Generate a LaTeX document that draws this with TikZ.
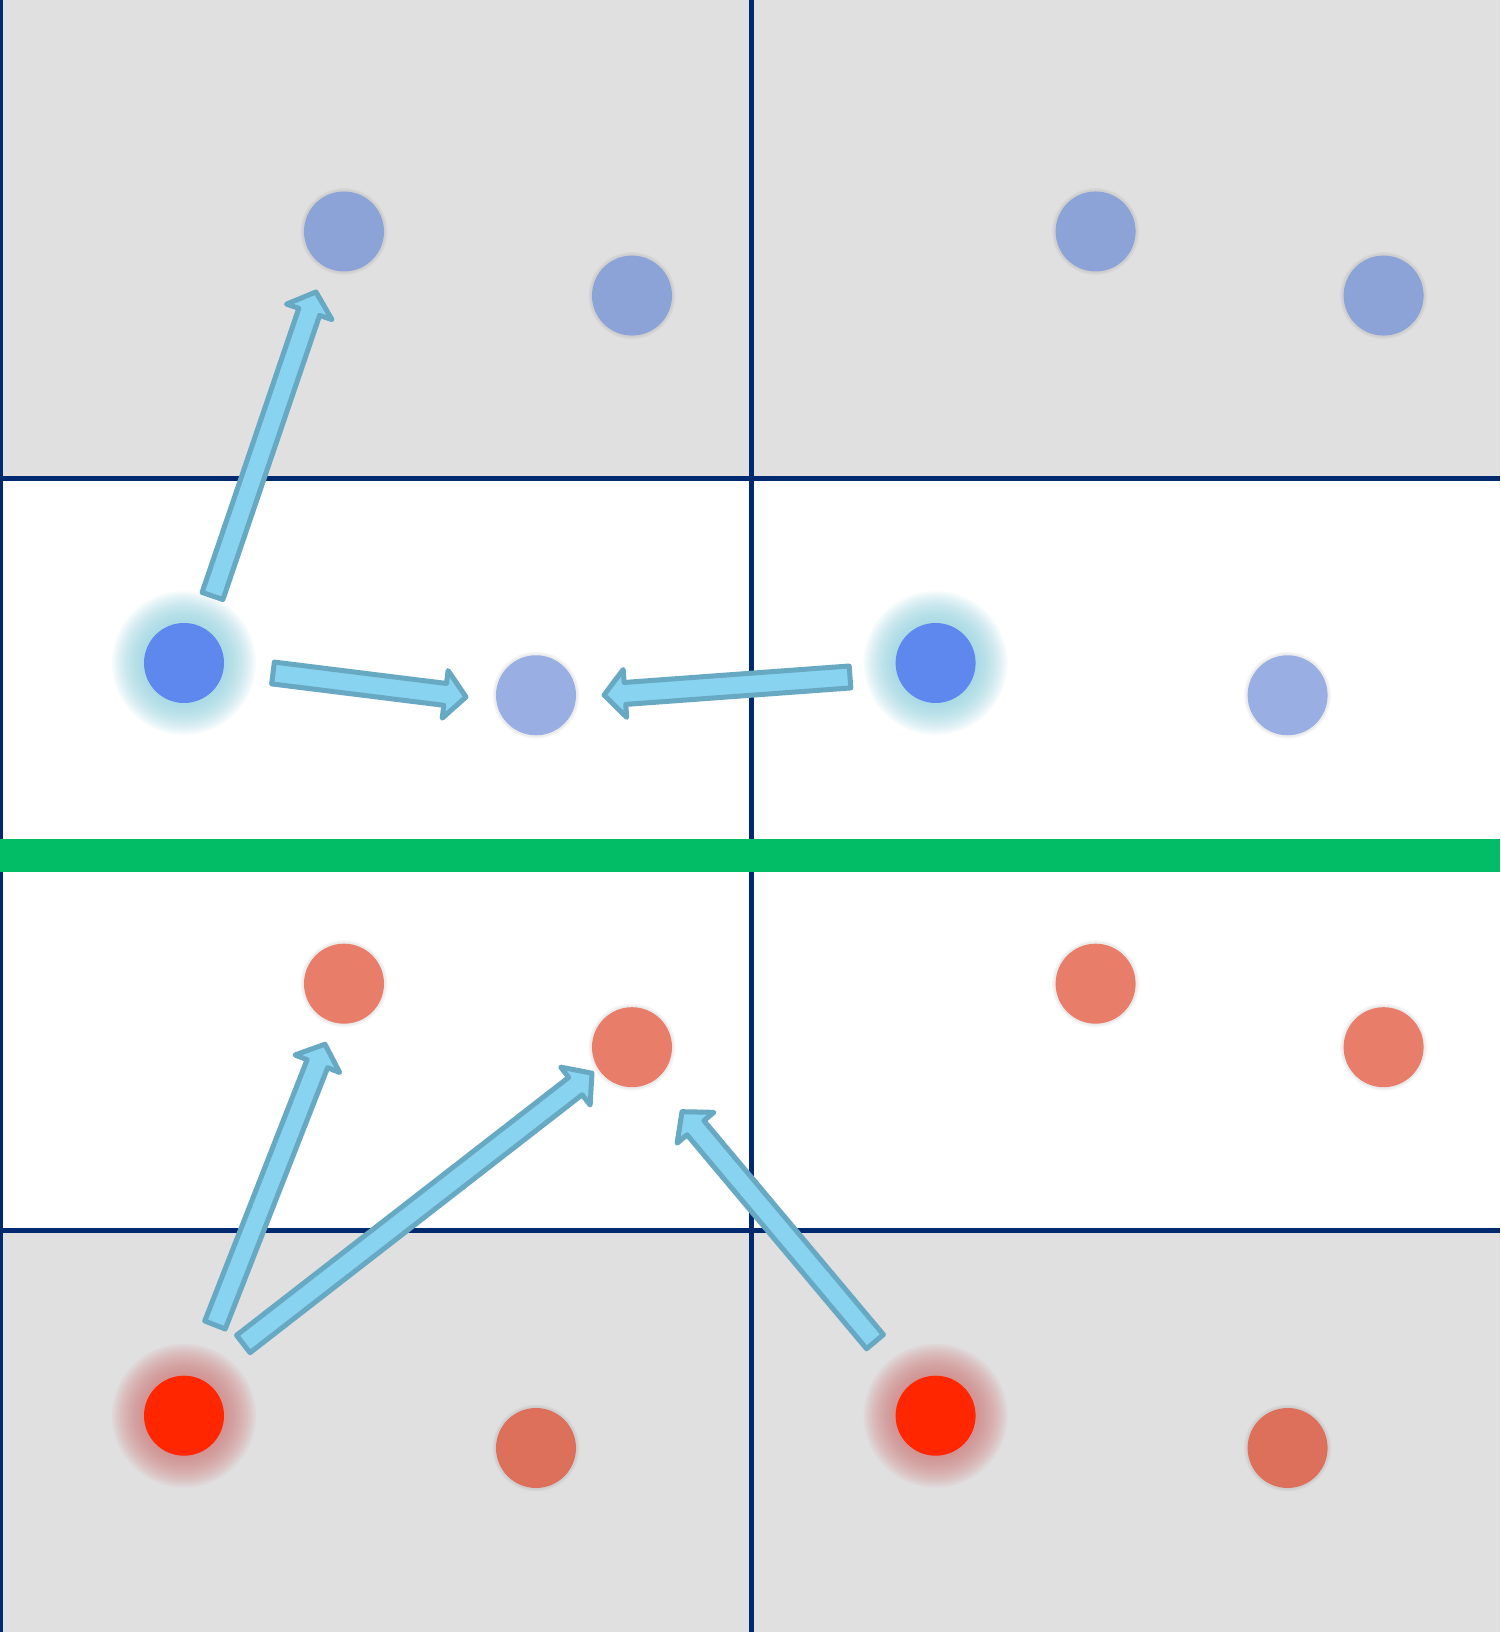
\documentclass[tikz,border=0pt]{standalone}
\usetikzlibrary{calc}
\definecolor{navy}{HTML}{00296F}
\definecolor{bggray}{HTML}{E0E0E0}
\definecolor{bandgreen}{HTML}{02BC66}
\definecolor{topblue}{HTML}{8BA3D6}
\definecolor{midblue}{HTML}{99AEE2}
\definecolor{brightblue}{HTML}{5F88EF}
\definecolor{glowblue}{HTML}{8FD2E0}
\definecolor{redlight}{HTML}{E87D69}
\definecolor{reddark}{HTML}{DC705A}
\definecolor{brightred}{HTML}{FF2600}
\definecolor{glowred}{HTML}{D27C7C}
\definecolor{arrowfill}{HTML}{88D3F0}
\definecolor{arrowline}{HTML}{67A8C3}
\pgfdeclarelayer{bg}
\pgfdeclarelayer{glow}
\pgfsetlayers{bg,glow,main}
\tikzset{
  dot/.style={circle, inner sep=0pt, minimum size=80pt, draw=none},
  barrow/.style={fill=arrowfill, draw=arrowline, line width=5pt, line join=round},
  gridline/.style={draw=navy, line width=5pt},
}
\newcommand\aw{11}
\newcommand\ah{24}
\newcommand\al{21}
\newcommand\blockarrow[2]{%
  \draw[barrow] let \p1=#1, \p2=#2, \n1={atan2(\y2-\y1,\x2-\x1)} in
    ($(\p1)+({\n1+90}:\aw)$) -- ($(\p2)+({\n1+180}:\al)+({\n1+90}:\aw)$)
    -- ($(\p2)+({\n1+180}:\al)+({\n1+90}:\ah)$) -- (\p2)
    -- ($(\p2)+({\n1+180}:\al)+({\n1-90}:\ah)$)
    -- ($(\p2)+({\n1+180}:\al)+({\n1-90}:\aw)$)
    -- ($(\p1)+({\n1-90}:\aw)$) -- cycle;}
\newcommand\glowat[2]{%
  \foreach \r in {42,44,...,72} {\fill[#2, opacity=0.075] (#1) circle (\r);}}
\newcommand\shadowat[1]{%
  \fill[black, opacity=0.035] (#1) circle (43.5);
  \fill[black, opacity=0.04] (#1) circle (42);}
\begin{document}
\begin{tikzpicture}[x=1pt, y=1pt]
\useasboundingbox (0,0) rectangle (1500,1632);
% nodes
\node[dot, fill=topblue] (t1) at (344,1400.5) {};
\node[dot, fill=topblue] (t2) at (632,1336.4) {};
\node[dot, fill=topblue] (t3) at (1095.6,1400.5) {};
\node[dot, fill=topblue] (t4) at (1383.6,1336.4) {};
\node[dot, fill=brightblue] (b1) at (184,969) {};
\node[dot, fill=midblue] (m1) at (536,936.7) {};
\node[dot, fill=brightblue] (b2) at (935.6,969) {};
\node[dot, fill=midblue] (m2) at (1287.6,936.7) {};
\node[dot, fill=redlight] (u1) at (344,648.3) {};
\node[dot, fill=redlight] (u2) at (632,584.8) {};
\node[dot, fill=redlight] (u3) at (1095.6,648.3) {};
\node[dot, fill=redlight] (u4) at (1383.6,584.8) {};
\node[dot, fill=brightred] (r1) at (184,216.3) {};
\node[dot, fill=reddark] (d1) at (536,184) {};
\node[dot, fill=brightred] (r2) at (935.6,216.3) {};
\node[dot, fill=reddark] (d2) at (1287.6,184) {};
% background
\begin{pgfonlayer}{bg}
  \fill[white] (0,0) rectangle (1500,1632);
  \fill[bggray] (0,1153) rectangle (1500,1632);
  \fill[bggray] (0,0) rectangle (1500,401);
  \draw[gridline] (0,0) -- (0,1632);
  \draw[gridline] (751.6,0) -- (751.6,1632);
  \draw[gridline] (0,1153) -- (1500,1153);
  \draw[gridline] (0,401) -- (1500,401);
  \fill[bandgreen] (0,760) rectangle (1500,793);
\end{pgfonlayer}
\begin{pgfonlayer}{glow}
  \glowat{b1}{glowblue}
  \glowat{b2}{glowblue}
  \glowat{r1}{glowred}
  \glowat{r2}{glowred}
  \foreach \n in {t1,t2,t3,t4,m1,m2,u1,u2,u3,u4,d1,d2} {\shadowat{\n}}
\end{pgfonlayer}
% arrows
\blockarrow{($(b1)+(28.5,67)$)}{($(t1)+(-28,-60.5)$)}
\blockarrow{($(b1)+(89,-10)$)}{($(m1)+(-70,-1.7)$)}
\blockarrow{($(b2)+(-85.6,-14)$)}{($(m1)+(68,0.3)$)}
\blockarrow{($(r1)+(31,90.7)$)}{($(u1)+(-19,-60.5)$)}
\blockarrow{($(r1)+(59.3,71.7)$)}{($(u2)+(-40,-26)$)}
\blockarrow{($(r2)+(-60.6,74)$)}{($(u2)+(50,-64.5)$)}
\end{tikzpicture}
\end{document}
